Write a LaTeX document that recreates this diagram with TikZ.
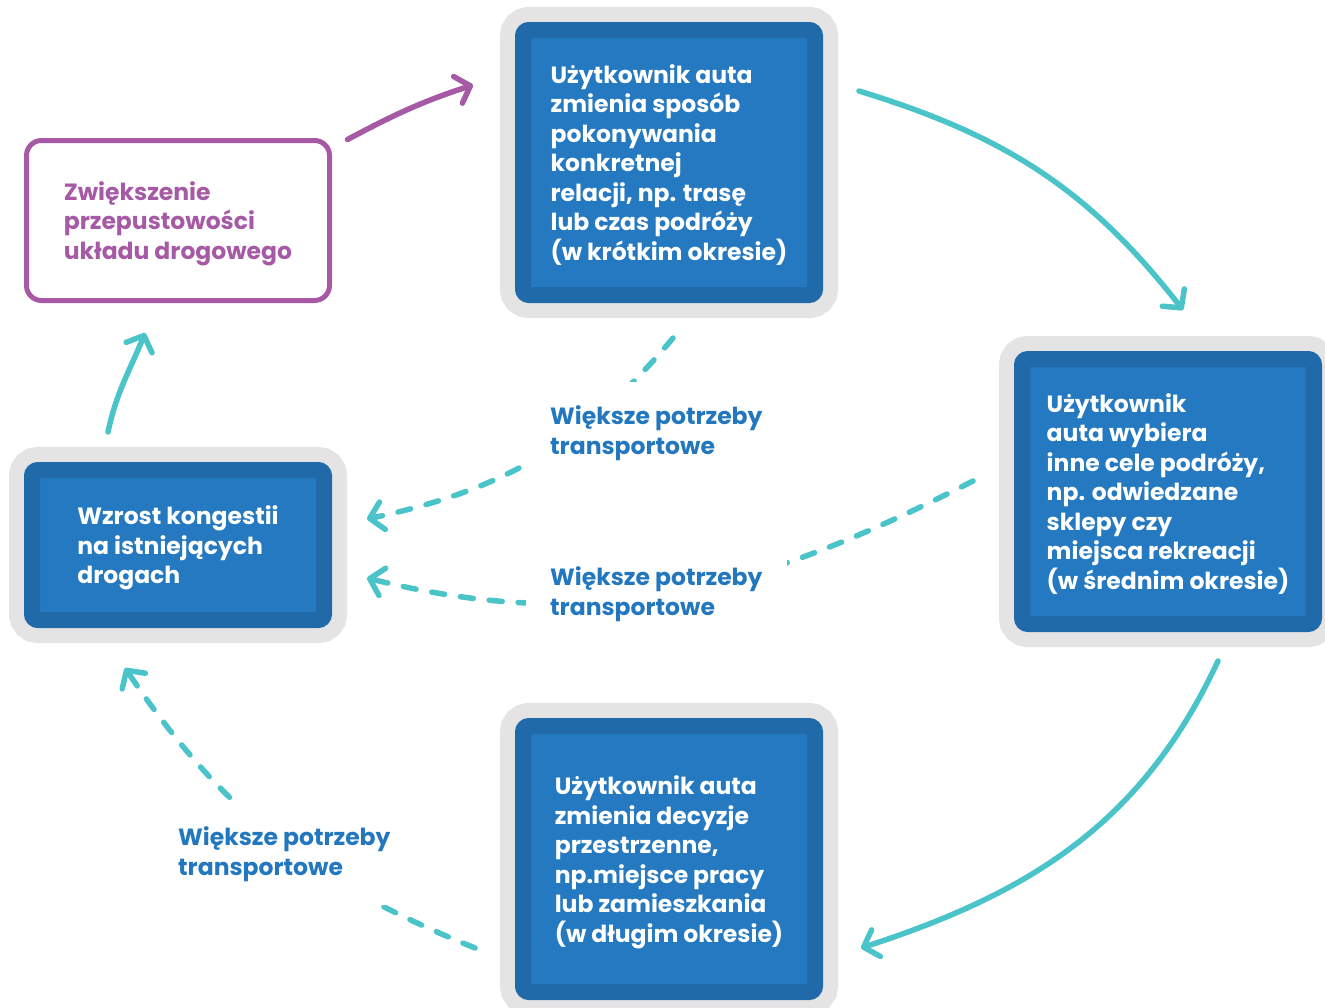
\documentclass[tikz,border=0pt]{standalone}
\usepackage{fontspec}
\setmainfont{Poppins}
\usetikzlibrary{arrows.meta, calc}

\definecolor{ringgray}{HTML}{E4E4E4}
\definecolor{boxdark}{HTML}{206AAA}
\definecolor{boxlight}{HTML}{2479C0}
\definecolor{cycleteal}{HTML}{4AC4C8}
\definecolor{capviolet}{HTML}{A65AA5}
\definecolor{needblue}{HTML}{2377BE}

\tikzset{
  boxfont/.style={font=\bfseries\fontsize{23.5}{29.5}\selectfont},
  cyclebox/.style={boxfont, fill=boxlight, draw=boxdark, line width=16pt,
    rounded corners=6pt, preaction={draw=ringgray, line width=46pt},
    minimum width=292pt, inner sep=0pt, outer sep=0pt, text=white, align=left,
    text depth=-15pt},
  capbox/.style={boxfont, draw=capviolet, line width=5pt, rounded corners=15pt,
    minimum width=303pt, minimum height=160pt, inner sep=0pt, outer sep=0pt,
    text=capviolet, align=left, text depth=-17pt},
  needlabel/.style={boxfont, fill=white, text=needblue, align=left,
    inner sep=24pt, anchor=west},
  solidarrow/.style={draw=cycleteal, line width=5.5pt, line cap=round,
    -{Straight Barb[length=13pt, width=28pt, round]}},
  dasharrow/.style={solidarrow, dash pattern=on 13pt off 16pt},
  caparrow/.style={solidarrow, draw=capviolet}
}

\begin{document}
\begin{tikzpicture}[x=1pt, y=-1pt]
\useasboundingbox (0,0) rectangle (1325,1007);

% the four stages of the loop
\node[cyclebox, minimum height=265pt] (route) at (669,162.5)
  {Użytkownik auta\\zmienia sposób\\pokonywania\\konkretnej\\relacji, np. trasę\\lub czas podróży\\(w krótkim okresie)};
\node[cyclebox, minimum height=265pt] (goals) at (1168,491.5)
  {Użytkownik\\auta wybiera\\inne cele podróży,\\np. odwiedzane\\sklepy czy\\miejsca rekreacji\\(w średnim okresie)};
\node[cyclebox, minimum height=266pt] (space) at (669,859)
  {Użytkownik auta\\zmienia decyzje\\przestrzenne,\\np.miejsce pracy\\lub zamieszkania\\(w długim okresie)};
\node[cyclebox, minimum height=150pt] (jam) at (178,545)
  {Wzrost kongestii\\na istniejących\\drogach};
\node[capbox] (capacity) at (178,220.5)
  {Zwiększenie\\przepustowości\\układu drogowego};

% solid arrows
\draw[caparrow] ($(capacity.north east)+(18,-1)$) to[out=28,in=198] ($(route.north west)+(-50,55)$);
\draw[solidarrow] ($(route.north east)+(44,61)$) to[out=-17,in=128] ($(goals.north)+(15,-49)$);
\draw[solidarrow] ($(goals.south)+(50,37)$) to[out=245,in=18] ($(space.east)+(46,89)$);
\draw[solidarrow] ($(jam.north)+(-70,-38)$) to[out=78,in=-112] ($(capacity.south)+(-33,32.5)$);

% dashed feedback arrows
\draw[dasharrow] ($(route.south)+(4,43)$) to[out=230,in=12] ($(jam.east)+(43,-26)$);
\draw[dasharrow] ($(goals.west)+(-49,-10.5)$) to[out=207,in=-14] ($(jam.east)+(43,33)$);
\draw[dasharrow] ($(space.west)+(-48,89)$) to[out=158,in=-56] ($(jam.south)+(-53,48)$);

\node[needlabel] (need1) at (526,433) {Większe potrzeby\\transportowe};
\node[needlabel] (need2) at (526,594) {Większe potrzeby\\transportowe};
\node[needlabel] (need3) at (154,854) {Większe potrzeby\\transportowe};
\end{tikzpicture}
\end{document}
